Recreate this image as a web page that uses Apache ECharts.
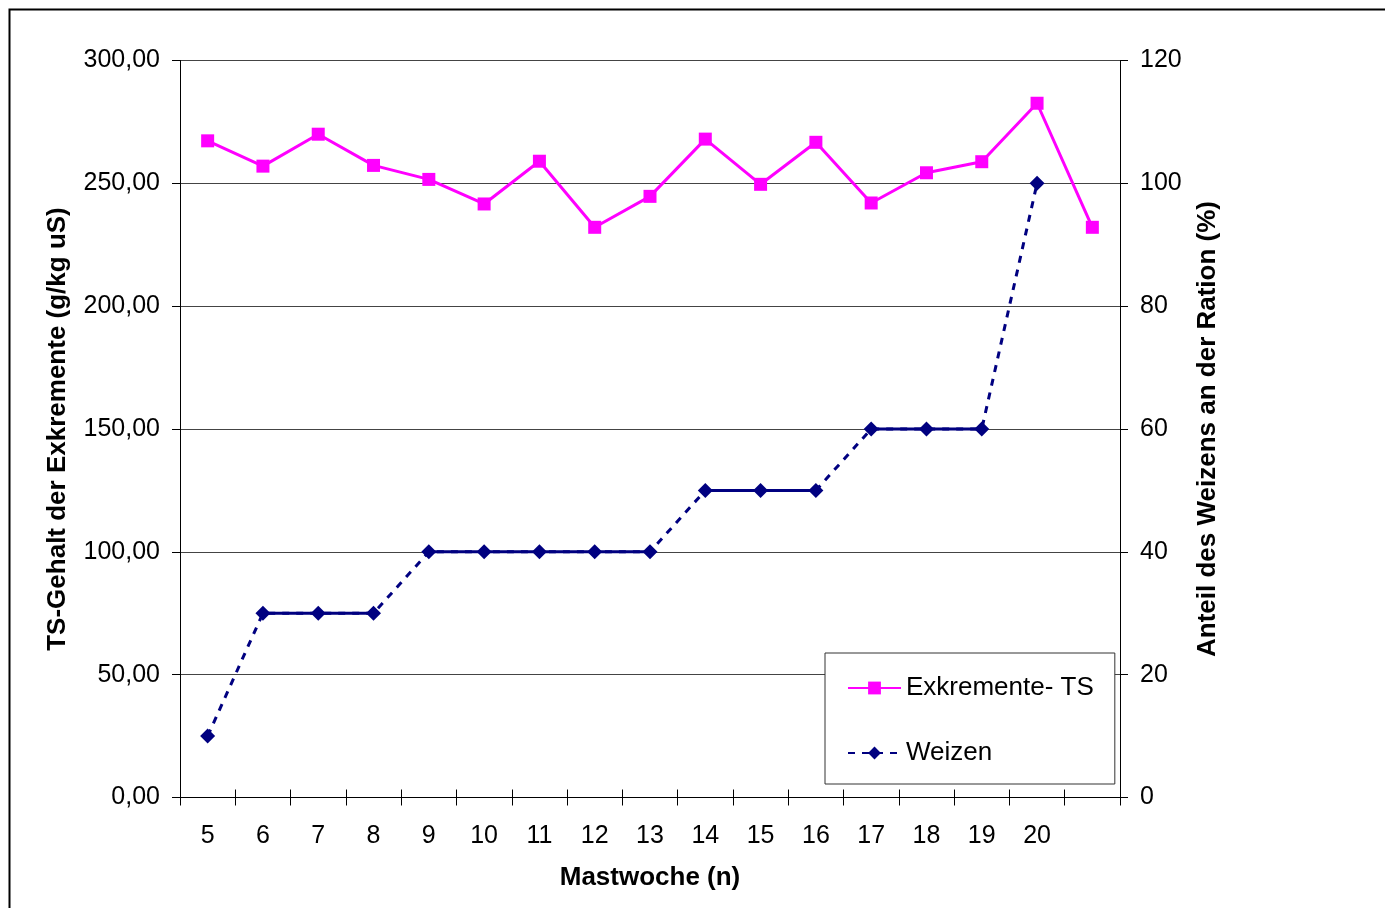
<!DOCTYPE html>
<html>
<head>
<meta charset="utf-8">
<title>TS-Gehalt der Exkremente und Weizenanteil</title>
<script src="https://cdn.jsdelivr.net/npm/echarts@6/dist/echarts.min.js"></script>
<style>
  html, body { margin: 0; padding: 0; background: #ffffff; }
  #chart { width: 1385px; height: 908px; }
</style>
</head>
<body>
<div id="chart"></div>
<script>
// Mastwochen (the last category carries a value but no label)
const weeks = ['5', '6', '7', '8', '9', '10', '11', '12', '13', '14', '15', '16', '17', '18', '19', '20', ''];

// TS-Gehalt der Exkremente (g/kg uS), left axis
const exkrementeTS = [267.3, 257.0, 270.0, 257.3, 251.6, 241.6, 259.0, 232.1, 244.7, 268.0, 249.6, 266.7, 242.0, 254.3, 258.8, 282.6, 232.1];

// Anteil des Weizens an der Ration (%), right axis
const weizenAnteil = [10, 30, 30, 30, 40, 40, 40, 40, 40, 50, 50, 50, 60, 60, 60, 100];

// Axis scales
const leftScale = { min: 0, max: 300, interval: 50 };
const rightScale = { min: 0, max: 120, interval: 20 };

const FONT = "'Liberation Sans', Arial, Helvetica, sans-serif";
const PINK = '#ff00ff';
const NAVY = '#000080';

// Weizen: steps between levels are dashed, constant stretches are solid.
// Each run of equal values becomes its own solid overlay series.
const plateauSeries = [];
let start = 0;
for (let i = 1; i <= weizenAnteil.length; i++) {
  if (i === weizenAnteil.length || weizenAnteil[i] !== weizenAnteil[start]) {
    if (i - start > 1) {
      const s = start, e = i - 1;
      plateauSeries.push({
        name: 'Weizen-Stufe-' + s,
        type: 'line',
        yAxisIndex: 1,
        data: weizenAnteil.map((v, k) => (k >= s && k <= e ? v : null)),
        symbol: 'none',
        silent: true,
        animation: false,
        z: 3,
        lineStyle: { color: NAVY, width: 3, type: 'solid' }
      });
    }
    start = i;
  }
}

const chart = echarts.init(document.getElementById('chart'), null, { renderer: 'canvas' });

chart.setOption({
  backgroundColor: '#ffffff',
  animation: false,
  textStyle: { fontFamily: FONT, color: '#000' },
  graphic: [{
    type: 'rect',
    silent: true,
    z: 100,
    shape: { x: 9.5, y: 9.5, width: 1420, height: 940 },
    style: { fill: 'none', stroke: '#000', lineWidth: 2 }
  }],
  grid: { left: 180, right: 265, top: 60.5, bottom: 110.5, containLabel: false },
  legend: {
    orient: 'vertical',
    left: 825,
    top: 653,
    data: ['Exkremente- TS', 'Weizen'],
    backgroundColor: '#ffffff',
    borderColor: '#333333',
    borderWidth: 1,
    padding: [22, 21, 18, 22],
    itemWidth: 53,
    itemHeight: 16,
    itemGap: 39,
    textStyle: { fontFamily: FONT, fontSize: 26, color: '#000' },
    selectedMode: false
  },
  xAxis: [{
    type: 'category',
    data: weeks,
    boundaryGap: true,
    name: 'Mastwoche (n)',
    nameLocation: 'middle',
    nameGap: 67,
    nameTextStyle: { fontFamily: FONT, fontSize: 26, fontWeight: 'bold', color: '#000' },
    axisLine: { show: true, lineStyle: { color: '#000', width: 1 } },
    axisTick: { show: true, inside: false, length: 8, interval: 0, lineStyle: { color: '#000' } },
    axisLabel: { interval: 0, margin: 26, fontFamily: FONT, fontSize: 25, color: '#000' },
    splitLine: { show: false }
  }, {
    // same categories, ticks pointing into the plot so they cross the axis line
    type: 'category',
    data: weeks,
    boundaryGap: true,
    position: 'bottom',
    axisLine: { show: false },
    axisTick: { show: true, inside: true, length: 8, interval: 0, lineStyle: { color: '#000' } },
    axisLabel: { show: false },
    splitLine: { show: false }
  }],
  yAxis: [{
    type: 'value',
    position: 'left',
    min: leftScale.min,
    max: leftScale.max,
    interval: leftScale.interval,
    name: 'TS-Gehalt der Exkremente (g/kg uS)',
    nameLocation: 'middle',
    nameRotate: 90,
    nameGap: 109,
    nameTextStyle: { fontFamily: FONT, fontSize: 26, fontWeight: 'bold', color: '#000' },
    axisLine: { show: true, lineStyle: { color: '#000', width: 1 } },
    axisTick: { show: true, inside: false, length: 8, lineStyle: { color: '#000' } },
    axisLabel: {
      margin: 20,
      padding: [6, 0, 0, 0],
      fontFamily: FONT, fontSize: 25, color: '#000',
      formatter: v => v.toFixed(2).replace('.', ',')
    },
    splitLine: { show: true, lineStyle: { color: '#444444', width: 1 } }
  }, {
    type: 'value',
    position: 'right',
    min: rightScale.min,
    max: rightScale.max,
    interval: rightScale.interval,
    name: 'Anteil des Weizens an der Ration (%)',
    nameLocation: 'middle',
    nameRotate: 90,
    nameGap: 75,
    nameTextStyle: { fontFamily: FONT, fontSize: 26, fontWeight: 'bold', color: '#000' },
    axisLine: { show: true, lineStyle: { color: '#000', width: 1 } },
    axisTick: { show: true, inside: false, length: 8, lineStyle: { color: '#000' } },
    axisLabel: { margin: 20, padding: [6, 0, 0, 0], fontFamily: FONT, fontSize: 25, color: '#000' },
    splitLine: { show: false }
  }],
  series: [{
    name: 'Exkremente- TS',
    type: 'line',
    yAxisIndex: 0,
    data: exkrementeTS,
    symbol: 'rect',
    symbolSize: 13,
    z: 4,
    lineStyle: { color: PINK, width: 3 },
    itemStyle: { color: PINK, borderWidth: 0 }
  }, {
    name: 'Weizen',
    type: 'line',
    yAxisIndex: 1,
    data: weizenAnteil,
    symbol: 'diamond',
    symbolSize: 15,
    z: 2,
    lineStyle: { color: NAVY, width: 3, type: [7, 7] },
    itemStyle: { color: NAVY, borderWidth: 0 }
  }].concat(plateauSeries)
});
</script>
</body>
</html>
